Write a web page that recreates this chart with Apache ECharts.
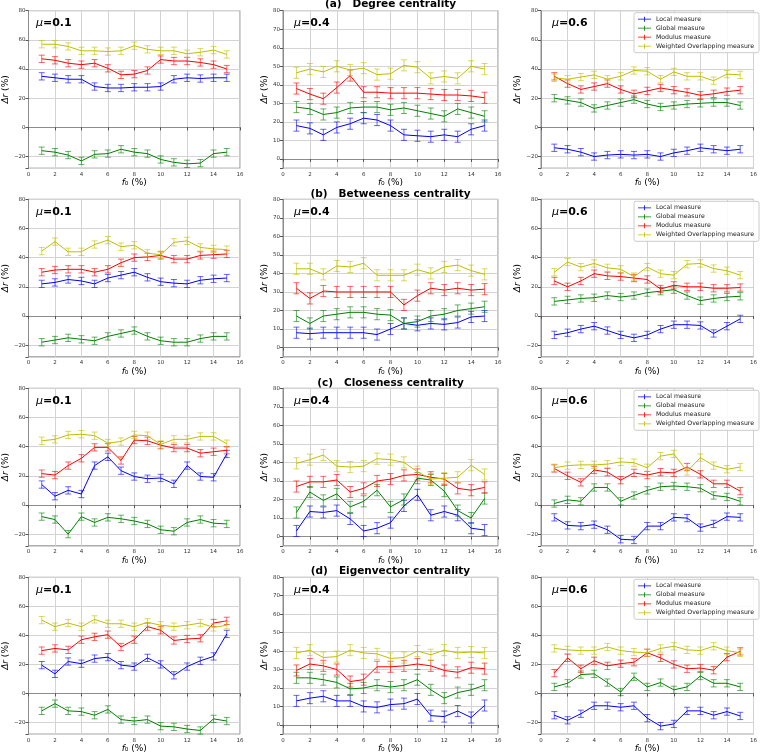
<!DOCTYPE html>
<html><head><meta charset="utf-8">
<script src="https://cdn.jsdelivr.net/npm/echarts@6/dist/echarts.min.js"></script>
<style>html,body{margin:0;padding:0;background:#fff}#c{width:760px;height:754px}</style>
</head><body><div id="c"></div><script>
// ---------- data ----------
const fValues = [1,2,3,4,5,6,7,8,9,10,11,12,13,14,15];
const seriesNames = ['Local measure','Global measure','Modulus measure','Weighted Overlapping measure'];
const centralityTitles = ['(a)   Degree centrality','(b)   Betweeness centrality','(c)   Closeness centrality','(d)   Eigenvector centrality'];
const muLabels = ['0.1','0.4','0.6'];
const errorHalfWidth = [2.5, 3, 2.5]; // per mu column

const degree_mu01_local    = [35,34,33,33,28,27,27,27.5,27.5,28,33,34,33.5,34,34];
const degree_mu01_global   = [-16,-17,-19,-23,-18.5,-18,-15,-17,-18,-22,-24,-25,-24.5,-18,-17];
const degree_mu01_modulus  = [47,46,44,43,44,40.5,36,36.5,39,46.5,45.5,45.5,44.5,43,40];
const degree_mu01_weighted = [57,57,55.5,52.5,52.5,52,52.5,56,53.5,52.5,52.5,50.5,51.5,53,50];

const degree_mu04_local    = [18,16.5,13,17,19,22,21,18,13,12.5,12,13,12,16,18];
const degree_mu04_global   = [28,27,24,25,27.5,28,28,26.5,27.5,26,24.5,23,27,25,23];
const degree_mu04_modulus  = [38,35,32.5,38.5,45,36,36,35.5,35.5,35.5,35,34.5,34.5,34,33];
const degree_mu04_weighted = [46.5,48.5,47,50,48,49,45.5,46,50.5,49.5,43.5,44.5,43.5,50,48.5];

const degree_mu06_local    = [-14,-15,-17,-20,-19,-18.5,-19,-18.5,-20,-17.5,-16,-14,-15,-16,-15];
const degree_mu06_global   = [20,18.5,17,13,15,17,19,16,14,15,16,16.5,17,17,15];
const degree_mu06_modulus  = [35,30,26,28,30,26,23,25,27,25.5,24,22,23,24.5,25.5];
const degree_mu06_weighted = [34,33,34.5,36,33,35,39,38.5,33,38,35,35,32,36.5,36];

const betw_mu01_local    = [22,23,25,24,22,26,28,30,26.5,23.5,22.5,22,24.5,25.5,26];
const betw_mu01_global   = [-18,-16.5,-15,-16,-17,-14,-12,-10,-14,-17,-18,-18,-15.5,-14,-14];
const betw_mu01_modulus  = [30,31.5,32,32,30,32,36.5,40,40.5,41.5,39,39,41.5,42,42.5];
const betw_mu01_weighted = [44.5,51,44,44,49,52,47.5,48.5,43,42,50.5,51.5,47,46,45.5];

const betw_mu04_local    = [8,7.5,8,8,8,8,7,10,13,12,13,12.5,13.5,16.5,17];
const betw_mu04_global   = [17,13,17,18,19,19,18,17.5,13,14,17,18,20,21,22];
const betw_mu04_modulus  = [32,26.5,30.5,30,30,30,30,30,23,28,32,31,32,31,31.5];
const betw_mu04_weighted = [42.5,42.5,39.5,44,43.5,45.5,39,39,39,42,40,43.5,44.5,41.5,39.5];

const betw_mu06_local    = [-13,-11.5,-9,-7,-10,-13,-15,-13,-9,-6,-6,-6.5,-12,-7,-2];
const betw_mu06_global   = [10,11,12,12.5,14,13,14,16,17,18,14,10.5,12,13,13.5];
const betw_mu06_modulus  = [24,20,24,29,27.5,27,26,25,18.5,21,20,20,19,19,19.5];
const betw_mu06_weighted = [30,37,33.5,36,33,32,27,33.5,29,28,35.5,36,32.5,31,28];

const close_mu01_local    = [14,6,10,7.5,27,33,23.5,19.5,18,18.5,14.5,27,19.5,19,35];
const close_mu01_global   = [-8,-10,-20,-8,-12,-8.5,-9.5,-11,-13,-17,-18,-12,-10,-12.5,-13];
const close_mu01_modulus  = [21.5,20.5,27,32,39.5,39.5,30.5,44.5,44,41,39,39,35.5,36.5,37.5];
const close_mu01_weighted = [44,45,48,48.5,47.5,42.5,43.5,48,47.5,41.5,45,45,47,47,42];

const close_mu04_local    = [3,13.5,13,14,9.5,3,4.5,7.5,16.5,22.5,11.5,13.5,11.5,4.5,3.5];
const close_mu04_global   = [13,24,19.5,23,16,19,25,16,20,31.5,30.5,24.5,14,10,20.5];
const close_mu04_modulus  = [27,29.5,29.5,30.5,24,26,30,31,33,33.5,32,31,26,25,26.5];
const close_mu04_weighted = [39.5,41.5,44,38,37.5,38,42,41.5,40,35,31,31.5,32,38.5,33.5];

const close_mu06_local    = [-8.5,-14,-14.5,-13.5,-17,-23.5,-24,-14.5,-14.5,-8.5,-9,-15.5,-13,-8,-8.5];
const close_mu06_global   = [1,3.5,2.5,12,12,2.5,6.5,10,12.5,13,12.5,11.5,6.5,5.5,2.5];
const close_mu06_modulus  = [25,20,15.5,24,22.5,17,22,20.5,22.5,22,26,21,14.5,14.5,9.5];
const close_mu06_weighted = [25.5,27,27.5,27.5,28,29.5,29,25.5,33.5,35,23,32.5,27,24.5,26];

const eigen_mu01_local    = [19.5,13.5,22,20.5,24,25,19.5,18.5,24.5,20,12.5,18.5,22.5,25.5,41];
const eigen_mu01_global   = [-12,-7,-12,-12.5,-15,-11,-18,-19,-18,-22.5,-23,-24.5,-25.5,-17.5,-19];
const eigen_mu01_modulus  = [29.5,31,30,37,39,40.5,32,37,46,43.5,36.5,37.5,38,48.5,50];
const eigen_mu01_weighted = [50.5,46,48.5,46,51,48,48,46,49,47,46,47,48.5,45.5,47];

const eigen_mu04_local    = [13,14.5,15.5,13,13,10,9.5,11,11.5,14,5,4.5,7.5,4,10.5];
const eigen_mu04_global   = [25.5,25.5,24.5,23,19.5,20,21.5,20.5,21.5,24.5,19,14.5,17.5,19,21.5];
const eigen_mu04_modulus  = [29.5,33,32,30,23.5,24.5,31.5,31.5,32,33,32,29.5,28.5,31,30.5];
const eigen_mu04_weighted = [39,40.5,36.5,37,40.5,39,38.5,36,36.5,40,38,40.5,39,39.5,39];

const eigen_mu06_local    = [-15,-18.5,-14,-8.5,-8.5,-9.5,-8.5,-17,-22.5,-21,-12,-12,-15,-12.5,-15.5];
const eigen_mu06_global   = [4.5,7,13,13.5,7.5,1,11.5,4.5,7.5,2.5,4.5,12,7,7,4.5];
const eigen_mu06_modulus  = [14,24.5,17,22.5,19,20.5,21.5,28,24.5,20,17,17.5,16,25,29];
const eigen_mu06_weighted = [31,30,29.5,29.5,32,29.5,28.5,28,31,32.5,30,29.5,32.5,29.5,28];

// ---------- assembly ----------
const panelData = [
  [[degree_mu01_local,degree_mu01_global,degree_mu01_modulus,degree_mu01_weighted],
   [degree_mu04_local,degree_mu04_global,degree_mu04_modulus,degree_mu04_weighted],
   [degree_mu06_local,degree_mu06_global,degree_mu06_modulus,degree_mu06_weighted]],
  [[betw_mu01_local,betw_mu01_global,betw_mu01_modulus,betw_mu01_weighted],
   [betw_mu04_local,betw_mu04_global,betw_mu04_modulus,betw_mu04_weighted],
   [betw_mu06_local,betw_mu06_global,betw_mu06_modulus,betw_mu06_weighted]],
  [[close_mu01_local,close_mu01_global,close_mu01_modulus,close_mu01_weighted],
   [close_mu04_local,close_mu04_global,close_mu04_modulus,close_mu04_weighted],
   [close_mu06_local,close_mu06_global,close_mu06_modulus,close_mu06_weighted]],
  [[eigen_mu01_local,eigen_mu01_global,eigen_mu01_modulus,eigen_mu01_weighted],
   [eigen_mu04_local,eigen_mu04_global,eigen_mu04_modulus,eigen_mu04_weighted],
   [eigen_mu06_local,eigen_mu06_global,eigen_mu06_modulus,eigen_mu06_weighted]]
];

const FONT = 'DejaVu Sans';
const colors = ['#0000ff','#008000','#ff0000','#bfbf00'];
const colLeft = [25, 283, 541];
const colWidth = [215, 215, 216];
const rowTop = [10.7, 199.3, 388.3, 577.3];
const panelH = 157.5;
const yMinByCol = [-28, -5, -28];
const yStepByCol = [20, 10, 20];
const ySplitByCol = [5, 8, 5];
const yNameGap = [15, 9, 15];
const titleY = [4.5, 194, 383, 571];

const grids = [], xAxes = [], yAxes = [], series = [], legends = [], graphics = [];
const legendIcon = 'path://M0,4.1h13v0.8h-13z M6.1,2h0.8v5h-0.8z';

function renderErr(params, api) {
  const x = api.value(0), y = api.value(1), e = api.value(2);
  const top = api.coord([x, y + e]);
  const bot = api.coord([x, y - e]);
  const c = api.visual('color');
  const st = {stroke: c, lineWidth: 1, opacity: 0.6};
  return {type: 'group', children: [
    {type: 'line', shape: {x1: top[0], y1: top[1], x2: bot[0], y2: bot[1]}, style: st},
    {type: 'line', shape: {x1: top[0]-3, y1: top[1], x2: top[0]+3, y2: top[1]}, style: st},
    {type: 'line', shape: {x1: bot[0]-3, y1: bot[1], x2: bot[0]+3, y2: bot[1]}, style: st}
  ]};
}

for (let r = 0; r < 4; r++) {
  for (let c = 0; c < 3; c++) {
    const k = r * 3 + c;
    grids.push({left: colLeft[c], top: rowTop[r], width: colWidth[c], height: panelH,
      show: true, borderColor: '#8c8c8c', borderWidth: 1, backgroundColor: '#fff'});
    xAxes.push({type: 'value', gridIndex: k, min: 0, max: 16, interval: 2,
      axisLine: {show: true, lineStyle: {color: '#8c8c8c'}},
      axisTick: {show: true, length: 3, lineStyle: {color: '#555'}},
      axisLabel: {fontSize: 5.5, margin: 3, color: '#333', fontFamily: FONT},
      splitLine: {show: true, lineStyle: {color: '#d3d3d3', width: 1}},
      name: '{i|f}₀ (%)', nameLocation: 'middle', nameGap: 9,
      nameTextStyle: {fontSize: 9, color: '#000', fontFamily: FONT,
        rich: {i: {fontSize: 9, fontStyle: 'italic', fontFamily: FONT, color: '#000'}}}
    });
    const step = yStepByCol[c];
    yAxes.push({type: 'value', gridIndex: k, min: yMinByCol[c], max: 80, splitNumber: ySplitByCol[c],
      axisLine: {show: true, lineStyle: {color: '#8c8c8c'}},
      axisTick: {show: true, length: 3, lineStyle: {color: '#555'}},
      axisLabel: {fontSize: 5.5, margin: 3, color: '#333', fontFamily: FONT,
        formatter: v => (Math.abs(v % step) < 1e-9 ? String(v).replace('-', '\u2212') : '')},
      splitLine: {show: true, lineStyle: {color: '#d3d3d3', width: 1}},
      name: '{i|Δr} (%)', nameLocation: 'middle', nameGap: yNameGap[c], nameRotate: 90,
      nameTextStyle: {fontSize: 9, color: '#000', fontFamily: FONT,
        rich: {i: {fontSize: 9, fontStyle: 'italic', fontFamily: FONT, color: '#000'}}}
    });
    const sets = panelData[r][c];
    for (let m = 0; m < 4; m++) {
      const vals = sets[m];
      series.push({type: 'line', name: seriesNames[m], xAxisIndex: k, yAxisIndex: k,
        data: fValues.map((x, i) => [x, vals[i]]), showSymbol: false, animation: false,
        lineStyle: {width: 1, color: colors[m]}, itemStyle: {color: colors[m]}, z: 3 + m});
      series.push({type: 'custom', name: seriesNames[m], xAxisIndex: k, yAxisIndex: k,
        renderItem: renderErr, encode: {x: 0, y: 1}, animation: false,
        itemStyle: {color: colors[m]}, z: 3 + m,
        data: fValues.map((x, i) => [x, vals[i], errorHalfWidth[c]])});
    }
    graphics.push({type: 'text', x: colLeft[c] + 11, y: rowTop[r] + 12.5, z: 100,
      style: {text: '{m|μ}{b|=' + muLabels[c] + '}', verticalAlign: 'middle',
        rich: {m: {fontStyle: 'italic', fontSize: 11, fontFamily: FONT, fill: '#000', color: '#000'},
               b: {fontWeight: 'bold', fontSize: 11, fontFamily: FONT, fill: '#000', color: '#000'}}}});
    if (c === 2) {
      legends.push({orient: 'vertical', left: 634, top: rowTop[r] + 2,
        data: seriesNames.map((n, i) => ({name: n, icon: legendIcon, itemStyle: {color: colors[i]}})),
        itemWidth: 13, itemHeight: 9, itemGap: 0, padding: [2, 5, 2, 4],
        backgroundColor: 'rgba(255,255,255,0.85)', borderColor: '#cccccc', borderWidth: 1, borderRadius: 2,
        textStyle: {fontSize: 6.2, color: '#222', fontFamily: FONT, lineHeight: 9},
        selectedMode: true});
    }
  }
  graphics.push({type: 'text', x: 390.5, y: titleY[r], z: 100,
    style: {text: centralityTitles[r], font: 'bold 10.5px "DejaVu Sans"', fill: '#000',
      align: 'center', verticalAlign: 'middle'}});
}

const chart = echarts.init(document.getElementById('c'), null, {renderer: 'canvas'});
chart.setOption({
  backgroundColor: '#fff',
  animation: false,
  grid: grids, xAxis: xAxes, yAxis: yAxes, series: series,
  legend: legends, graphic: graphics
});
</script></body></html>
